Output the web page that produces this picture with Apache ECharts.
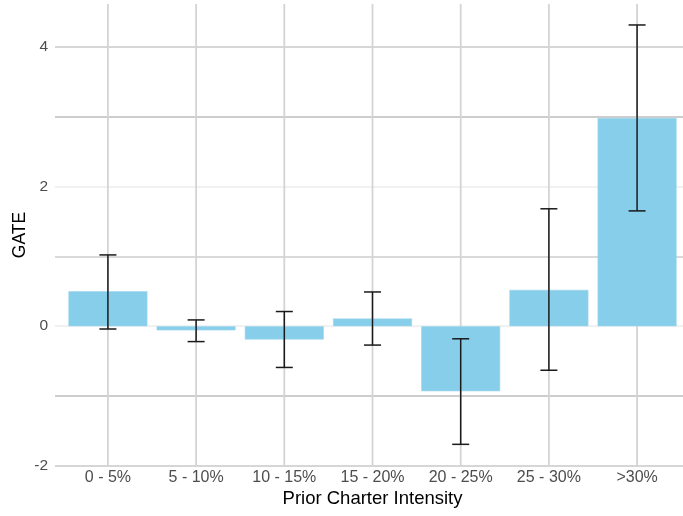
<!DOCTYPE html>
<html>
<head>
<meta charset="utf-8">
<script src="https://cdn.jsdelivr.net/npm/echarts@6/dist/echarts.min.js"></script>
<style>
html,body{margin:0;padding:0;background:#fff;}
#chart{width:683px;height:516px;}
</style>
</head>
<body>
<div id="chart"></div>
<script>
const categories = ['0 - 5%', '5 - 10%', '10 - 15%', '15 - 20%', '20 - 25%', '25 - 30%', '>30%'];
const gate = [0.50, -0.06, -0.19, 0.11, -0.93, 0.52, 2.98];
const ciLow = [-0.04, -0.22, -0.59, -0.27, -1.69, -0.63, 1.65];
const ciHigh = [1.02, 0.09, 0.21, 0.49, -0.18, 1.68, 4.31];
const yTicks = [-2, 0, 2, 4];

const Y_MIN = -2, Y_MAX = 4.61;
const FONT = '"Liberation Sans", Arial, sans-serif';

const chart = echarts.init(document.getElementById('chart'), null, {renderer: 'canvas'});

const idx = categories.map((c, i) => i);

chart.setOption({
  animation: false,
  backgroundColor: '#ffffff',
  grid: {left: 55, width: 635, top: 4, height: 462, containLabel: false, outerBoundsMode: 'none'},
  xAxis: {
    type: 'value',
    min: -0.6,
    max: 6.6,
    name: 'Prior Charter Intensity',
    nameLocation: 'middle',
    nameGap: 23,
    nameMoveOverlap: false,
    nameTextStyle: {color: '#000000', fontSize: 18.5, fontFamily: FONT},
    axisLine: {show: false},
    axisTick: {show: false},
    splitLine: {show: false},
    axisLabel: {
      customValues: idx,
      formatter: v => categories[Math.round(v)] || '',
      color: '#4d4d4d',
      fontSize: 16,
      fontFamily: FONT,
      margin: 4
    }
  },
  yAxis: {
    type: 'value',
    min: Y_MIN,
    max: Y_MAX,
    interval: 1,
    name: 'GATE',
    nameLocation: 'middle',
    nameGap: 26,
    nameMoveOverlap: false,
    nameRotate: 90,
    nameTextStyle: {color: '#000000', fontSize: 17.5, fontFamily: FONT},
    axisLine: {show: false},
    axisTick: {show: false},
    axisLabel: {
      formatter: v => (yTicks.indexOf(v) >= 0 ? String(v) : ''),
      color: '#4d4d4d',
      fontSize: 15.5,
      fontFamily: FONT,
      margin: 7,
      showMaxLabel: false
    },
    splitLine: {
      show: true,
      lineStyle: {
        color: ['#c8c8c8', '#bdbdbd', '#ececec', '#cccccc', '#ececec', '#bdbdbd', '#c8c8c8', 'rgba(0,0,0,0)'],
        width: 1.5
      }
    }
  },
  series: [
    {
      type: 'custom',
      name: 'vgrid',
      z: 1,
      silent: true,
      data: idx,
      renderItem: function (params, api) {
        const i = api.value(0);
        const p1 = api.coord([i, Y_MAX]);
        const p2 = api.coord([i, Y_MIN]);
        return {
          type: 'line',
          shape: {x1: p1[0], y1: p1[1], x2: p2[0], y2: p2[1]},
          style: {stroke: '#d4d4d4', lineWidth: 1.8}
        };
      },
      encode: {x: 0}
    },
    {
      type: 'bar',
      name: 'GATE',
      z: 2,
      barWidth: 79,
      data: idx.map(i => [i, gate[i]]),
      itemStyle: {color: '#87CEEB', borderColor: '#9fd6ee', borderWidth: 0.6}
    },
    {
      type: 'custom',
      name: 'ci',
      z: 3,
      data: idx.map(i => [i, ciLow[i], ciHigh[i]]),
      encode: {x: 0, y: [1, 2]},
      renderItem: function (params, api) {
        const i = api.value(0);
        const lo = api.coord([i, api.value(1)]);
        const hi = api.coord([i, api.value(2)]);
        const hw = 8.5;
        const st = {stroke: '#1a1a1a', lineWidth: 1.5};
        return {
          type: 'group',
          children: [
            {type: 'line', shape: {x1: lo[0], y1: lo[1], x2: hi[0], y2: hi[1]}, style: st},
            {type: 'line', shape: {x1: lo[0] - hw, y1: lo[1], x2: lo[0] + hw, y2: lo[1]}, style: st},
            {type: 'line', shape: {x1: hi[0] - hw, y1: hi[1], x2: hi[0] + hw, y2: hi[1]}, style: st}
          ]
        };
      }
    }
  ]
});
</script>
</body>
</html>
